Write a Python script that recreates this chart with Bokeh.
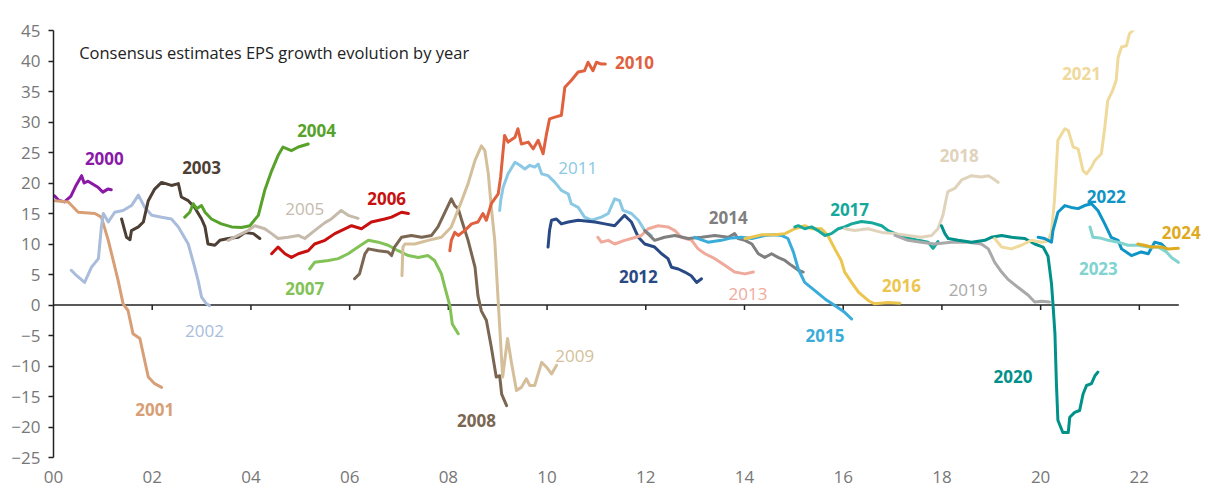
from bokeh.plotting import figure
from bokeh.models import Range1d, FixedTicker, Label
from bokeh.embed import file_html
from bokeh.resources import INLINE

# ---------------- data (years since 2000, EPS growth %) ----------------
t2000 = [0.02, 0.1, 0.22, 0.35, 0.45, 0.57, 0.62, 0.7, 0.9, 1.0, 1.1, 1.17]
v2000 = [17.9, 17.2, 16.9, 17.8, 19.5, 21.2, 20.0, 20.3, 19.3, 18.5, 19.0, 18.9]

t2001 = [0.03, 0.3, 0.5, 0.84, 0.97, 1.11, 1.31, 1.41, 1.51, 1.61, 1.75, 1.92, 2.05, 2.19]
v2001 = [17.1, 16.9, 15.2, 15.0, 14.4, 10.6, 4.0, 0.2, -0.9, -4.7, -5.5, -11.8, -12.9, -13.5]

t2002 = [0.36, 0.47, 0.63, 0.77, 0.91, 0.97, 1.01, 1.11, 1.24, 1.41, 1.58, 1.72, 1.85, 1.99,
         2.19, 2.39, 2.53, 2.73, 2.86, 2.93, 3.0, 3.1, 3.16]
v2002 = [5.7, 4.8, 3.7, 6.2, 7.6, 12.8, 15.0, 13.6, 15.2, 15.5, 16.3, 18.0, 16.0, 14.7,
         14.4, 14.1, 12.8, 10.0, 6.2, 4.0, 1.3, 0.2, -0.1]

t2003 = [1.38, 1.48, 1.55, 1.58, 1.72, 1.82, 1.92, 2.05, 2.19, 2.39, 2.53, 2.59, 2.73, 2.86,
         3.0, 3.07, 3.13, 3.27, 3.37, 3.54, 3.74, 3.88, 4.05, 4.18]
v2003 = [14.1, 11.1, 10.7, 12.2, 12.8, 13.6, 17.1, 19.0, 20.1, 19.6, 19.9, 17.7, 17.1, 16.0,
         14.1, 12.8, 10.0, 9.8, 10.6, 10.9, 11.1, 11.9, 11.7, 10.9]

t2004 = [2.66, 2.76, 2.83, 2.9, 3.0, 3.07, 3.2, 3.4, 3.61, 3.81, 3.98, 4.15, 4.28, 4.42,
         4.55, 4.65, 4.82, 4.96, 5.16]
v2004 = [14.4, 15.2, 16.6, 15.8, 16.3, 15.2, 14.1, 13.3, 12.8, 12.7, 13.0, 14.7, 18.8, 22.0,
         24.5, 25.9, 25.3, 25.9, 26.4]

t2005 = [3.54, 3.74, 3.94, 4.08, 4.28, 4.42, 4.55, 4.75, 4.96, 5.09, 5.29, 5.5, 5.63, 5.83, 5.97, 6.17]
v2005 = [10.6, 11.4, 12.2, 13.0, 12.5, 11.7, 10.9, 11.1, 11.4, 10.9, 12.2, 13.5, 14.1, 15.5, 14.7, 14.2]

t2006 = [4.42, 4.55, 4.69, 4.82, 4.96, 5.16, 5.29, 5.5, 5.7, 6.04, 6.24, 6.44, 6.71, 6.85, 7.05, 7.19]
v2006 = [8.4, 9.5, 8.4, 7.8, 8.4, 8.9, 10.0, 10.6, 11.7, 13.0, 12.5, 13.6, 14.1, 14.4, 15.2, 15.0]

t2007 = [5.19, 5.29, 5.57, 5.77, 5.97, 6.17, 6.38, 6.58, 6.78, 6.98, 7.19, 7.39, 7.59, 7.72,
         7.86, 7.93, 8.03, 8.08, 8.2]
v2007 = [5.9, 7.0, 7.3, 7.6, 8.4, 9.5, 10.6, 10.3, 9.8, 8.9, 8.1, 7.8, 8.1, 7.3,
         5.1, 2.9, -0.1, -3.1, -4.7]

t2008 = [6.1, 6.2, 6.31, 6.38, 6.58, 6.78, 6.85, 6.91, 7.05, 7.25, 7.46, 7.66, 7.79, 7.93,
         8.06, 8.13, 8.2, 8.27, 8.4, 8.54, 8.6, 8.67, 8.77, 8.87, 8.97, 9.04, 9.08, 9.18]
v2008 = [4.3, 5.1, 8.4, 9.2, 8.9, 8.7, 8.1, 9.5, 11.1, 11.4, 11.1, 11.4, 12.8, 15.2,
         17.4, 16.3, 15.8, 13.9, 10.6, 6.2, 1.5, -1.0, -2.5, -6.9, -11.8, -11.6, -14.6, -16.5]

t2009 = [7.06, 7.08, 7.12, 7.32, 7.59, 7.86, 8.06, 8.27, 8.4, 8.54, 8.67, 8.74, 8.81, 8.87,
         8.94, 9.0, 9.1, 9.2, 9.28, 9.38, 9.48, 9.58, 9.65, 9.75, 9.89, 9.99, 10.09, 10.19]
v2009 = [4.8, 9.5, 10.0, 10.0, 10.6, 11.1, 12.8, 17.1, 19.9, 23.7, 26.1, 25.3, 21.5, 16.0,
         10.6, 2.0, -11.8, -5.5, -9.5, -14.0, -13.5, -12.1, -13.2, -13.2, -9.4, -10.2, -11.3, -9.9]

t2010 = [8.03, 8.06, 8.13, 8.2, 8.33, 8.47, 8.6, 8.7, 8.77, 8.87, 9.01, 9.06, 9.1, 9.14,
         9.21, 9.35, 9.41, 9.48, 9.62, 9.72, 9.82, 9.92, 9.99, 10.05, 10.16, 10.29, 10.36,
         10.49, 10.63, 10.76, 10.83, 10.93, 11.0, 11.1, 11.18]
v2010 = [8.9, 10.6, 11.9, 11.4, 12.2, 13.3, 13.6, 15.0, 13.9, 16.6, 18.2, 21.0, 24.5, 27.8,
         26.7, 27.5, 28.9, 26.4, 26.7, 25.6, 27.0, 24.8, 28.1, 30.5, 30.8, 31.1, 35.7,
         36.8, 38.2, 38.4, 39.8, 38.4, 39.8, 39.5, 39.5]

t2011 = [9.04, 9.06, 9.11, 9.21, 9.35, 9.45, 9.55, 9.65, 9.75, 9.82, 9.89, 10.02, 10.16, 10.29,
         10.43, 10.49, 10.63, 10.76, 10.9, 11.1, 11.24, 11.37, 11.47, 11.54, 11.71, 11.85, 11.98, 12.11]
v2011 = [15.5, 17.1, 19.3, 21.5, 23.4, 22.9, 22.3, 22.9, 22.6, 23.1, 21.5, 21.2, 20.1, 18.8,
         18.2, 16.6, 16.0, 14.4, 13.9, 14.4, 15.0, 17.4, 17.1, 15.5, 15.0, 13.9, 12.2, 11.4]

t2012 = [10.02, 10.05, 10.09, 10.19, 10.29, 10.43, 10.63, 10.97, 11.17, 11.37, 11.57, 11.71,
         11.85, 11.98, 12.18, 12.32, 12.45, 12.52, 12.66, 12.79, 12.92, 13.03, 13.13]
v2012 = [9.5, 12.2, 13.9, 14.1, 13.3, 13.6, 13.9, 13.6, 13.3, 13.0, 14.7, 13.6,
         11.1, 10.0, 9.5, 8.4, 7.6, 6.2, 5.9, 5.4, 4.8, 3.7, 4.3]

t2013 = [11.03, 11.1, 11.24, 11.37, 11.57, 11.71, 11.91, 12.05, 12.25, 12.45, 12.59, 12.72,
         12.93, 13.06, 13.2, 13.4, 13.6, 13.8, 14.01, 14.18]
v2013 = [11.1, 10.3, 10.6, 10.0, 10.6, 10.9, 11.4, 12.5, 13.0, 12.8, 12.2, 11.1,
         10.6, 9.2, 8.4, 7.6, 6.5, 5.4, 5.1, 5.4]

t2014 = [11.98, 12.18, 12.38, 12.59, 12.86, 13.13, 13.4, 13.67, 13.8, 13.87, 14.01, 14.15,
         14.28, 14.41, 14.55, 14.68, 14.82, 14.95, 15.09, 15.19]
v2014 = [12.2, 10.6, 11.1, 11.4, 10.9, 11.1, 11.4, 11.1, 11.7, 10.9, 10.6, 10.0,
         8.4, 7.8, 8.4, 7.8, 7.3, 6.5, 5.7, 5.4]

t2015 = [12.99, 13.26, 13.53, 13.74, 13.94, 14.15, 14.41, 14.61, 14.75, 14.88, 14.99, 15.09,
         15.22, 15.42, 15.63, 15.83, 16.03, 16.17]
v2015 = [11.1, 10.3, 10.6, 11.0, 11.1, 10.9, 11.4, 11.5, 11.4, 10.9, 8.7, 5.9,
         3.7, 2.4, 1.0, -0.1, -1.2, -2.3]

t2016 = [14.01, 14.14, 14.34, 14.61, 14.82, 15.02, 15.22, 15.36, 15.56, 15.69, 15.83, 15.96,
         16.03, 16.17, 16.31, 16.51, 16.64, 16.91, 17.15]
v2016 = [10.9, 11.1, 11.5, 11.5, 11.7, 12.5, 13.0, 12.5, 12.5, 11.4, 9.2, 7.3,
         5.4, 3.7, 2.1, 0.7, 0.2, 0.4, 0.3]

t2017 = [15.02, 15.09, 15.22, 15.36, 15.49, 15.63, 15.76, 15.9, 16.03, 16.17, 16.37, 16.57,
         16.78, 16.91, 17.05, 17.25, 17.52, 17.72, 17.82, 17.92]
v2017 = [12.8, 13.0, 12.5, 12.8, 12.2, 11.4, 11.7, 12.5, 12.8, 13.3, 13.7, 13.5,
         13.0, 12.2, 11.7, 11.1, 10.6, 10.3, 9.3, 10.4]

t2018 = [16.03, 16.23, 16.5, 16.78, 17.05, 17.31, 17.58, 17.79, 17.92, 18.02, 18.09, 18.12,
         18.26, 18.4, 18.6, 18.8, 18.94, 19.04, 19.14]
v2018 = [12.5, 12.2, 12.5, 11.9, 11.7, 11.4, 11.1, 11.4, 12.5, 14.7, 17.5, 18.6,
         19.1, 20.5, 21.2, 21.0, 21.2, 20.7, 20.1]

t2019 = [17.05, 17.31, 17.58, 17.85, 18.19, 18.53, 18.8, 18.94, 19.07, 19.21, 19.34, 19.54,
         19.75, 19.88, 20.02, 20.18]
v2019 = [11.4, 10.6, 10.3, 10.0, 10.3, 10.3, 10.0, 9.2, 7.0, 5.4, 4.2, 2.9,
         1.6, 0.5, 0.6, 0.5]

t2020 = [17.99, 18.06, 18.13, 18.33, 18.6, 18.87, 19.0, 19.21, 19.41, 19.68, 19.88, 20.05,
         20.15, 20.22, 20.25, 20.29, 20.32, 20.35, 20.45, 20.56, 20.59, 20.69, 20.79, 20.86,
         20.93, 21.03, 21.1, 21.16]
v2020 = [13.0, 11.7, 10.9, 10.6, 10.3, 10.6, 11.1, 11.4, 11.1, 10.9, 10.0, 9.5,
         8.0, 3.5, 0.2, -4.7, -12.9, -18.9, -20.9, -20.9, -18.4, -17.6, -17.3, -14.6,
         -13.2, -12.9, -11.6, -11.0]

t2021 = [19.07, 19.21, 19.41, 19.61, 19.81, 20.02, 20.15, 20.22, 20.28, 20.35, 20.49, 20.56,
         20.66, 20.76, 20.86, 20.93, 21.03, 21.1, 21.23, 21.3, 21.36, 21.46, 21.53, 21.57,
         21.64, 21.74, 21.8, 21.87, 21.97]
v2021 = [10.9, 9.5, 9.2, 9.8, 10.6, 10.3, 10.5, 12.0, 17.1, 27.0, 28.9, 28.6,
         25.9, 25.6, 22.0, 21.5, 22.6, 23.7, 24.8, 29.1, 33.5, 35.2, 36.8, 40.6,
         42.3, 42.5, 44.5, 45.0, 46.0]

t2022 = [19.95, 20.08, 20.22, 20.25, 20.35, 20.49, 20.62, 20.76, 20.89, 21.03, 21.16, 21.3,
         21.43, 21.57, 21.64, 21.84, 22.04, 22.18, 22.31, 22.45, 22.55]
v2022 = [11.1, 10.9, 10.3, 12.2, 15.2, 16.3, 16.0, 15.8, 16.3, 16.6, 15.5, 13.3,
         11.1, 10.6, 9.2, 8.1, 8.7, 8.4, 10.3, 10.0, 9.2]

t2023 = [21.0, 21.06, 21.2, 21.37, 21.57, 21.77, 21.97, 22.18, 22.38, 22.55, 22.65, 22.79]
v2023 = [12.8, 11.1, 11.0, 10.6, 10.3, 9.8, 9.8, 9.5, 9.5, 8.7, 7.8, 7.0]

t2024 = [21.97, 22.1, 22.24, 22.45, 22.58, 22.79]
v2024 = [10.0, 9.8, 9.5, 9.5, 9.2, 9.3]

YEARS = [str(y) for y in range(2000, 2025)]
SERIES_T = [t2000, t2001, t2002, t2003, t2004, t2005, t2006, t2007, t2008, t2009, t2010,
            t2011, t2012, t2013, t2014, t2015, t2016, t2017, t2018, t2019, t2020, t2021,
            t2022, t2023, t2024]
SERIES_V = [v2000, v2001, v2002, v2003, v2004, v2005, v2006, v2007, v2008, v2009, v2010,
            v2011, v2012, v2013, v2014, v2015, v2016, v2017, v2018, v2019, v2020, v2021,
            v2022, v2023, v2024]

# label anchor points (data units)
LABEL_T = [1.03, 2.05, 3.06, 3.0, 5.33, 5.09, 6.75, 5.09, 8.57, 10.56, 11.77, 10.62, 11.85,
           14.07, 13.67, 15.63, 17.18, 16.13, 18.35, 18.53, 19.44, 20.83, 21.33, 21.17, 22.85]
LABEL_V = [24.0, -17.1, -4.2, 22.5, 28.6, 15.8, 17.5, 2.7, -18.9, -8.4, 39.8, 22.4, 4.6,
           1.8, 14.3, -5.0, 3.2, 15.7, 24.5, 2.5, -11.7, 37.9, 17.8, 6.0, 11.9]

X_TICKS = [0, 2, 4, 6, 8, 10, 12, 14, 16, 18, 20, 22]
X_TICK_LABELS = ["00", "02", "04", "06", "08", "10", "12", "14", "16", "18", "20", "22"]
X_AXIS_END = 22.8
Y_TICKS = [-25, -20, -15, -10, -5, 0, 5, 10, 15, 20, 25, 30, 35, 40, 45]
NOTE = "Consensus estimates EPS growth evolution by year"

# ---------------- styles ----------------
COLORS = ["#8a1aa6", "#d89f76", "#a9bcdc", "#4e3f35", "#58a22b", "#c5baab", "#c8100f",
          "#82c256", "#7b6652", "#d4bf9a", "#e0613e", "#8ac8e4", "#294985", "#f0aa9c",
          "#7f7f7f", "#3aacd9", "#ecc54f", "#15a89b", "#e0d3bb", "#a9a9a9", "#00918a",
          "#efd99b", "#0f94c6", "#80d3cf", "#deaa20"]
BOLD = {"2000", "2001", "2003", "2004", "2006", "2007", "2008", "2010", "2012", "2014",
        "2015", "2016", "2017", "2018", "2020", "2021", "2022", "2023", "2024"}
FONT = "Open Sans"
AXIS_COLOR = "#222222"

p = figure(frame_width=1150, frame_height=427,
           x_range=Range1d(0, 23.3), y_range=Range1d(-25, 45),
           output_backend="svg", toolbar_location=None,
           min_border_left=53, min_border_right=2, min_border_top=30, min_border_bottom=40,
           background_fill_color="white", border_fill_color="white")
p.outline_line_color = None
p.xgrid.grid_line_color = None
p.ygrid.grid_line_color = None

# y axis
p.yaxis.ticker = FixedTicker(ticks=Y_TICKS)
p.yaxis.axis_line_color = AXIS_COLOR
p.yaxis.axis_line_width = 1.5
p.yaxis.major_tick_line_color = AXIS_COLOR
p.yaxis.major_tick_line_width = 1.5
p.yaxis.major_tick_out = 5
p.yaxis.major_tick_in = 0
p.yaxis.minor_tick_line_color = None
p.yaxis.major_label_text_color = "#777777"
p.yaxis.major_label_text_font = FONT
p.yaxis.major_label_text_font_size = "17px"
p.yaxis.major_label_standoff = 8

# x axis (labels only at the bottom)
p.xaxis.ticker = FixedTicker(ticks=X_TICKS)
p.xaxis.major_label_overrides = {t: s for t, s in zip(X_TICKS, X_TICK_LABELS)}
p.xaxis.axis_line_color = None
p.xaxis.major_tick_line_color = None
p.xaxis.minor_tick_line_color = None
p.xaxis.major_tick_out = 0
p.xaxis.major_tick_in = 0
p.xaxis.major_label_text_color = "#777777"
p.xaxis.major_label_text_font = FONT
p.xaxis.major_label_text_font_size = "17px"
p.xaxis.major_label_standoff = 13

# zero line with downward ticks
p.segment(x0=[0], y0=[0], x1=[X_AXIS_END], y1=[0], line_color=AXIS_COLOR, line_width=1.5)
p.segment(x0=X_TICKS[1:], y0=[0] * (len(X_TICKS) - 1), x1=X_TICKS[1:],
          y1=[-0.8] * (len(X_TICKS) - 1), line_color=AXIS_COLOR, line_width=1.5)

# series
for yr, ts, vs, c in zip(YEARS, SERIES_T, SERIES_V, COLORS):
    p.line(ts, vs, line_color=c, line_width=3, line_join="round", line_cap="round")

# year labels
for yr, lt, lv, c in zip(YEARS, LABEL_T, LABEL_V, COLORS):
    p.add_layout(Label(x=lt, y=lv, text=yr, text_color=c, text_font=FONT,
                       text_font_size="17px",
                       text_font_style="bold" if yr in BOLD else "normal",
                       text_align="center", text_baseline="middle"))

p.add_layout(Label(x=0.52, y=41.4, text=NOTE, text_color=AXIS_COLOR, text_font=FONT,
                   text_font_size="16.5px", text_align="left", text_baseline="middle"))

open("out.html", "w").write(file_html(p, INLINE))
